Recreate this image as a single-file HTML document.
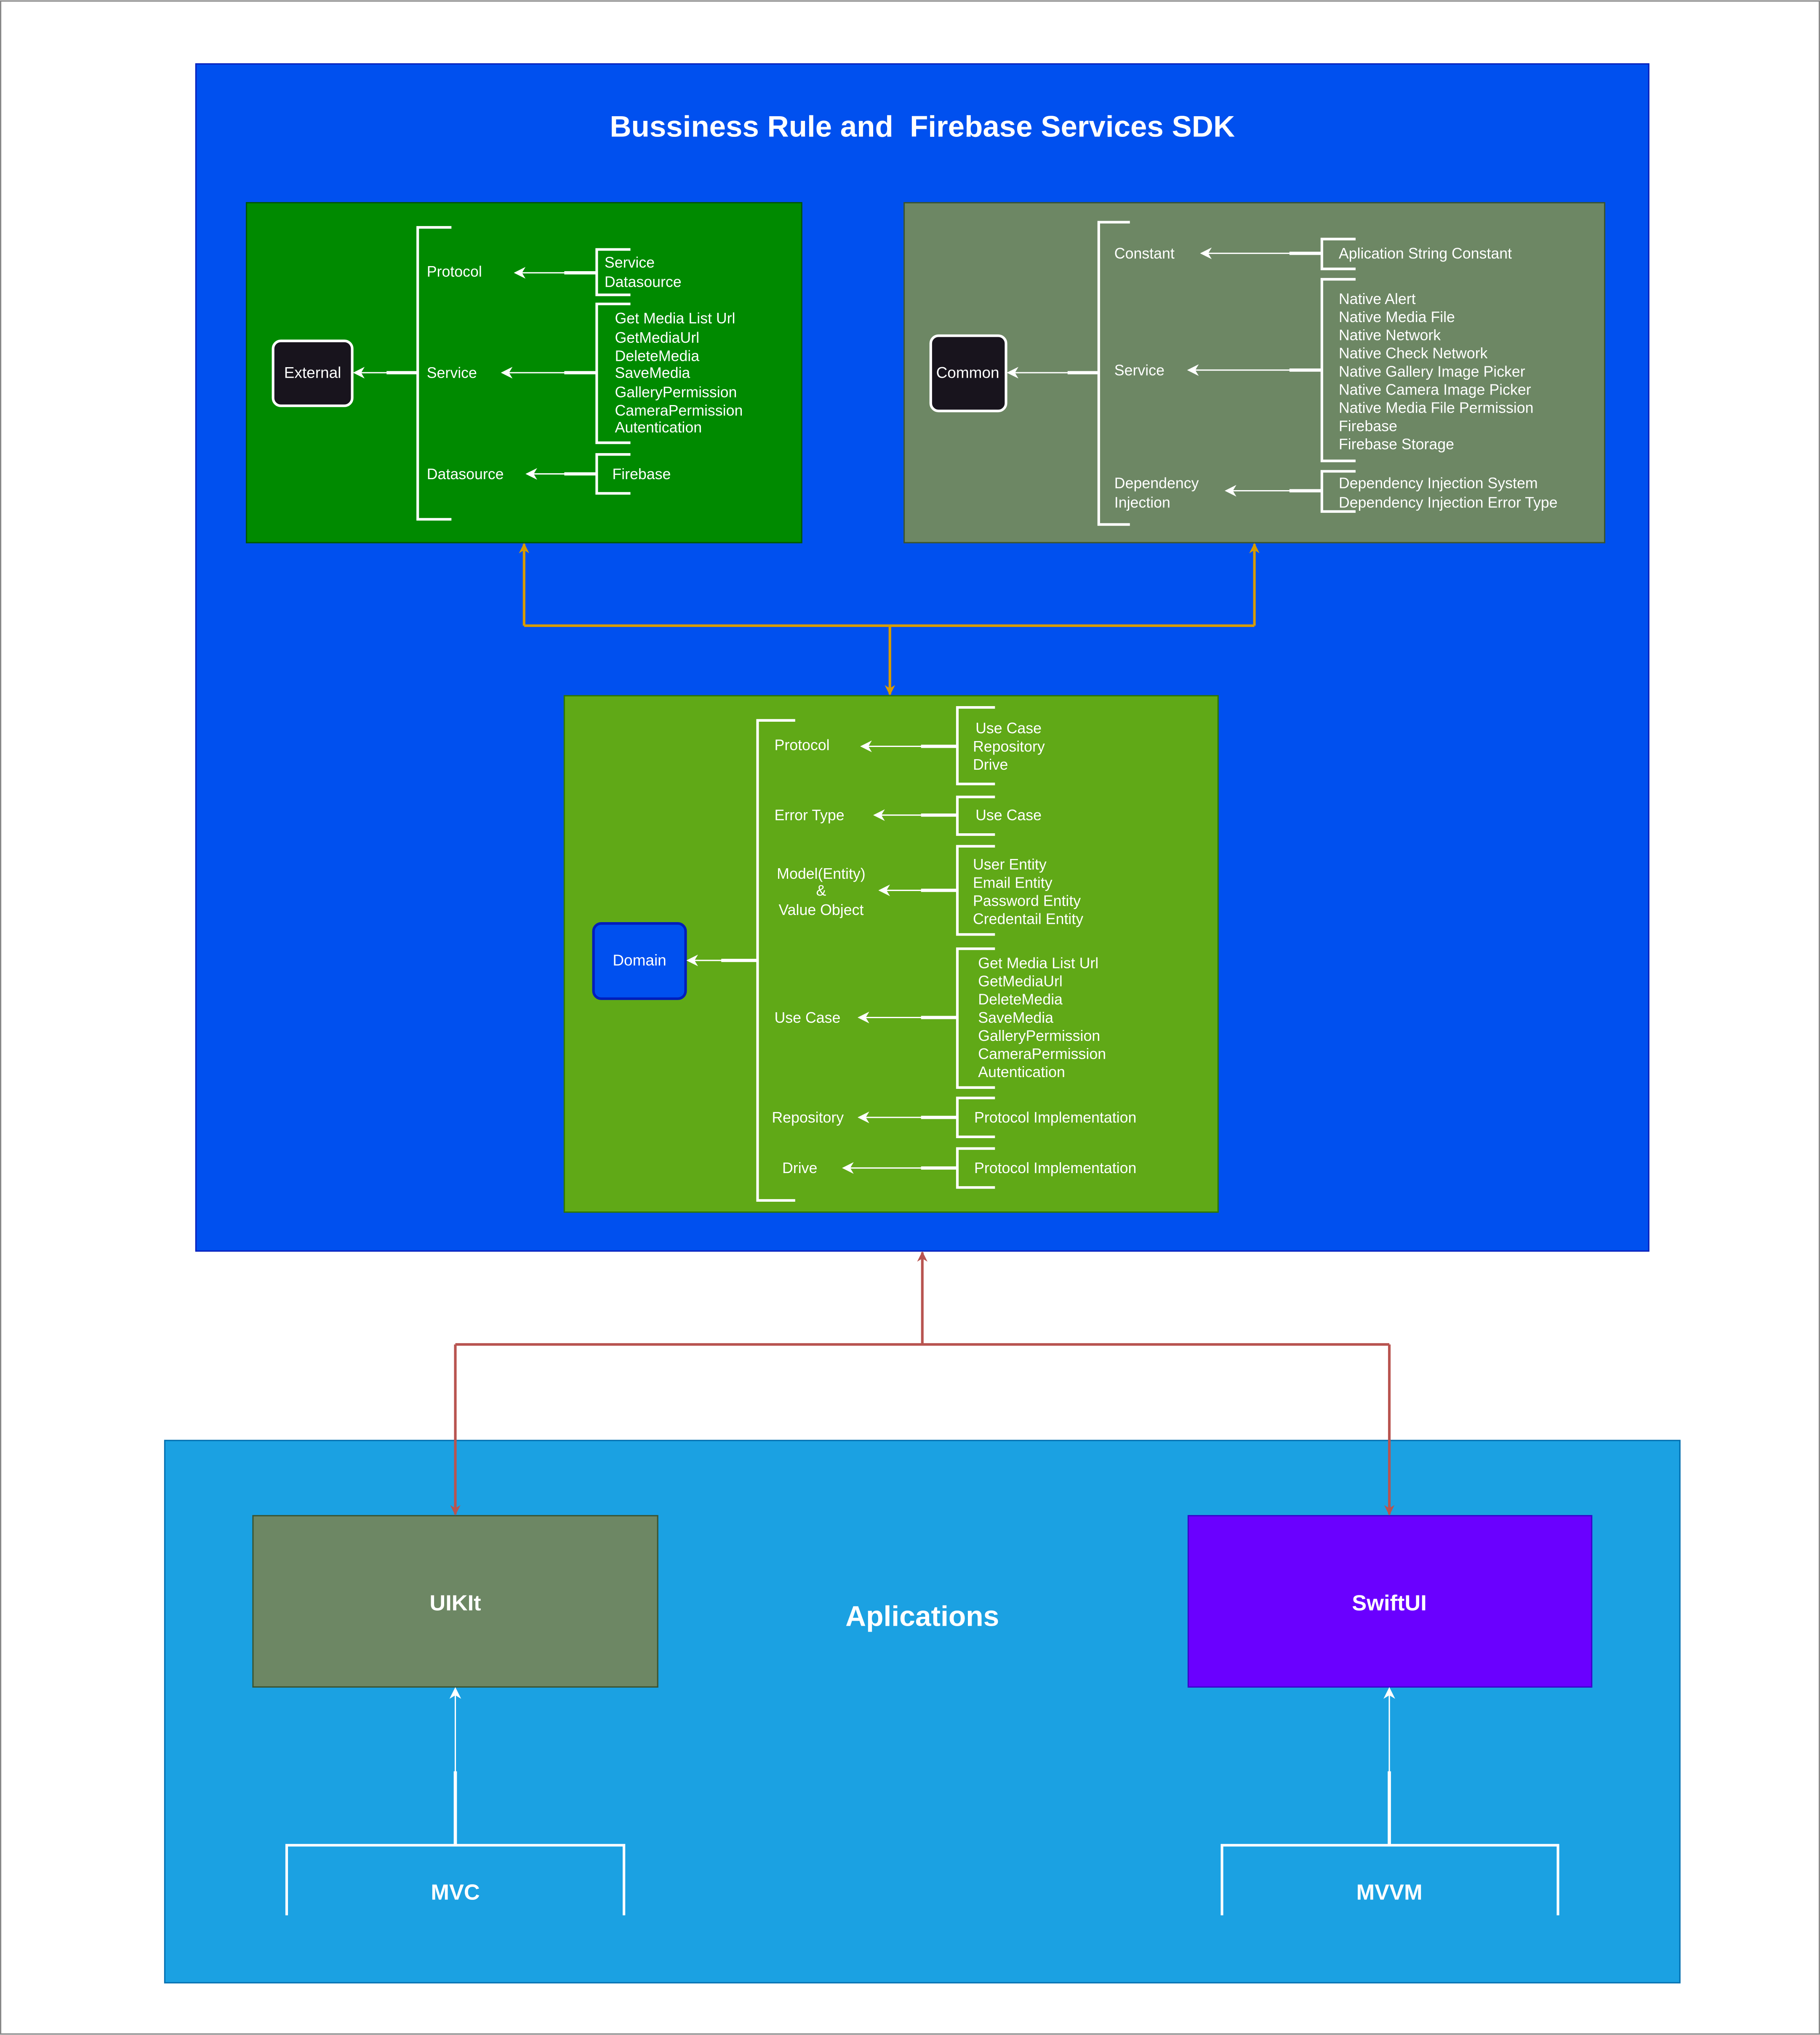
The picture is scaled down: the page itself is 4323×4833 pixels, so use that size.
<!DOCTYPE html>
<html><head><meta charset="utf-8">
<style>
html,body{margin:0;padding:0;background:#fff;}
svg{display:block;}
text{font-family:"Liberation Sans",Arial,sans-serif;fill:#fff;}
</style></head>
<body>
<svg width="4323" height="4833" viewBox="0 0 1403 1568" xmlns="http://www.w3.org/2000/svg">
<defs>
<marker id="aw" viewBox="0 0 10 10" refX="9" refY="5" markerUnits="userSpaceOnUse" markerWidth="9" markerHeight="9" orient="auto-start-reverse">
<path d="M0,0 L10,5 L0,10 L3,5 Z" fill="#fff"/></marker>
<marker id="ao" viewBox="0 0 10 10" refX="9" refY="5" markerUnits="userSpaceOnUse" markerWidth="8" markerHeight="8" orient="auto-start-reverse">
<path d="M0,0 L10,5 L0,10 L3,5 Z" fill="#D79B00"/></marker>
<marker id="ar" viewBox="0 0 10 10" refX="9" refY="5" markerUnits="userSpaceOnUse" markerWidth="8" markerHeight="8" orient="auto-start-reverse">
<path d="M0,0 L10,5 L0,10 L3,5 Z" fill="#B85450"/></marker>
</defs>
<rect x="0.5" y="0.5" width="1402" height="1567" fill="#fff" stroke="#888" stroke-width="1"/>

<rect x="151" y="49" width="1120" height="915" fill="#0050EF" stroke="#001DBC" stroke-width="1"/>
<text x="711" y="105" font-size="23" font-weight="bold" text-anchor="middle" xml:space="preserve">Bussiness Rule and  Firebase Services SDK</text>

<rect x="190" y="156" width="428" height="262" fill="#008A00" stroke="#005700" stroke-width="1"/>
<rect x="210.5" y="262.5" width="61" height="50" rx="6" fill="#18141D" stroke="#fff" stroke-width="2"/>
<text x="241" y="291" font-size="12" text-anchor="middle">External</text>
<g stroke="#fff" fill="none" stroke-width="2">
<path d="M348,175 H322 V400 H348"/>
<path d="M486,192 H460 V227 H486"/>
<path d="M486,234 H460 V341 H486"/>
<path d="M486,350 H460 V380 H486"/>
</g>
<g stroke="#fff" stroke-width="1">
<line x1="322" y1="287" x2="273" y2="287" marker-end="url(#aw)"/>
<line x1="460" y1="210" x2="397" y2="210" marker-end="url(#aw)"/>
<line x1="460" y1="287" x2="387" y2="287" marker-end="url(#aw)"/>
<line x1="460" y1="365" x2="406" y2="365" marker-end="url(#aw)"/>
</g>
<g stroke="#fff" stroke-width="2.5">
<line x1="298" y1="287" x2="322" y2="287"/>
<line x1="435" y1="210" x2="460" y2="210"/>
<line x1="435" y1="287" x2="460" y2="287"/>
<line x1="435" y1="365" x2="460" y2="365"/>
</g>
<g font-size="11.6">
<text x="329" y="213">Protocol</text>
<text x="329" y="291">Service</text>
<text x="329" y="369">Datasource</text>
<text x="466" y="206">Service</text>
<text x="466" y="221">Datasource</text>
<text x="474" y="249">Get Media List Url</text>
<text x="474" y="264">GetMediaUrl</text>
<text x="474" y="278">DeleteMedia</text>
<text x="474" y="291">SaveMedia</text>
<text x="474" y="306">GalleryPermission</text>
<text x="474" y="320">CameraPermission</text>
<text x="474" y="333">Autentication</text>
<text x="472" y="369">Firebase</text>
</g>

<rect x="697" y="156" width="540" height="262" fill="#6D8764" stroke="#3A5431" stroke-width="1"/>
<rect x="717.5" y="258.5" width="58" height="58" rx="6" fill="#18141D" stroke="#fff" stroke-width="2"/>
<text x="746" y="291" font-size="12" text-anchor="middle">Common</text>
<g stroke="#fff" fill="none" stroke-width="2">
<path d="M871,171 H847 V404 H871"/>
<path d="M1045,184 H1019 V207 H1045"/>
<path d="M1045,215 H1019 V355 H1045"/>
<path d="M1045,363 H1019 V394 H1045"/>
</g>
<g stroke="#fff" stroke-width="1">
<line x1="847" y1="287" x2="777" y2="287" marker-end="url(#aw)"/>
<line x1="1019" y1="195" x2="926" y2="195" marker-end="url(#aw)"/>
<line x1="1019" y1="285" x2="916" y2="285" marker-end="url(#aw)"/>
<line x1="1019" y1="378" x2="945" y2="378" marker-end="url(#aw)"/>
</g>
<g stroke="#fff" stroke-width="2.5">
<line x1="823" y1="287" x2="847" y2="287"/>
<line x1="994" y1="195" x2="1019" y2="195"/>
<line x1="994" y1="285" x2="1019" y2="285"/>
<line x1="994" y1="378" x2="1019" y2="378"/>
</g>
<g font-size="11.6">
<text x="859" y="199">Constant</text>
<text x="859" y="289">Service</text>
<text x="859" y="376">Dependency</text>
<text x="859" y="391">Injection</text>
<text x="1032" y="199">Aplication String Constant</text>
<text x="1032" y="234">Native Alert</text>
<text x="1032" y="248">Native Media File</text>
<text x="1032" y="262">Native Network</text>
<text x="1032" y="276">Native Check Network</text>
<text x="1032" y="290">Native Gallery Image Picker</text>
<text x="1032" y="304">Native Camera Image Picker</text>
<text x="1032" y="318">Native Media File Permission</text>
<text x="1032" y="332">Firebase</text>
<text x="1032" y="346">Firebase Storage</text>
<text x="1032" y="376">Dependency Injection System</text>
<text x="1032" y="391">Dependency Injection Error Type</text>
</g>

<g stroke="#D79B00" stroke-width="2" fill="none">
<path d="M404,482 V419" marker-end="url(#ao)"/>
<path d="M404,482 H967"/>
<path d="M967,482 V419" marker-end="url(#ao)"/>
<path d="M686,482 V535" marker-end="url(#ao)"/>
</g>

<rect x="435" y="536" width="504" height="398" fill="#60A917" stroke="#2D7600" stroke-width="1"/>
<rect x="457.5" y="711.5" width="71" height="58" rx="6" fill="#0050EF" stroke="#001DBC" stroke-width="2"/>
<text x="493" y="744" font-size="12" text-anchor="middle">Domain</text>
<g stroke="#fff" fill="none" stroke-width="2">
<path d="M613,555 H584 V925 H613"/>
<path d="M767,545 H738 V604 H767"/>
<path d="M767,614 H738 V643 H767"/>
<path d="M767,652 H738 V720 H767"/>
<path d="M767,731 H738 V838 H767"/>
<path d="M767,846 H738 V876 H767"/>
<path d="M767,885 H738 V915 H767"/>
</g>
<g stroke="#fff" stroke-width="1">
<line x1="584" y1="740" x2="530" y2="740" marker-end="url(#aw)"/>
<line x1="738" y1="575" x2="664" y2="575" marker-end="url(#aw)"/>
<line x1="738" y1="628" x2="674" y2="628" marker-end="url(#aw)"/>
<line x1="738" y1="686" x2="678" y2="686" marker-end="url(#aw)"/>
<line x1="738" y1="784" x2="662" y2="784" marker-end="url(#aw)"/>
<line x1="738" y1="861" x2="662" y2="861" marker-end="url(#aw)"/>
<line x1="738" y1="900" x2="650" y2="900" marker-end="url(#aw)"/>
</g>
<g stroke="#fff" stroke-width="2.5">
<line x1="556" y1="740" x2="584" y2="740"/>
<line x1="710" y1="575" x2="738" y2="575"/>
<line x1="710" y1="628" x2="738" y2="628"/>
<line x1="710" y1="686" x2="738" y2="686"/>
<line x1="710" y1="784" x2="738" y2="784"/>
<line x1="710" y1="861" x2="738" y2="861"/>
<line x1="710" y1="900" x2="738" y2="900"/>
</g>
<g font-size="11.6">
<text x="597" y="578">Protocol</text>
<text x="597" y="632">Error Type</text>
<text x="633" y="677" text-anchor="middle">Model(Entity)</text>
<text x="633" y="690" text-anchor="middle">&amp;</text>
<text x="633" y="705" text-anchor="middle">Value Object</text>
<text x="597" y="788">Use Case</text>
<text x="595" y="865">Repository</text>
<text x="603" y="904">Drive</text>
<text x="752" y="565">Use Case</text>
<text x="750" y="579">Repository</text>
<text x="750" y="593">Drive</text>
<text x="752" y="632">Use Case</text>
<text x="750" y="670">User Entity</text>
<text x="750" y="684">Email Entity</text>
<text x="750" y="698">Password Entity</text>
<text x="750" y="712">Credentail Entity</text>
<text x="754" y="746">Get Media List Url</text>
<text x="754" y="760">GetMediaUrl</text>
<text x="754" y="774">DeleteMedia</text>
<text x="754" y="788">SaveMedia</text>
<text x="754" y="802">GalleryPermission</text>
<text x="754" y="816">CameraPermission</text>
<text x="754" y="830">Autentication</text>
<text x="751" y="865">Protocol Implementation</text>
<text x="751" y="904">Protocol Implementation</text>
</g>

<rect x="127" y="1110" width="1168" height="418" fill="#1BA1E2" stroke="#006EAF" stroke-width="1"/>
<rect x="195" y="1168" width="312" height="132" fill="#6D8764" stroke="#3A5431" stroke-width="1"/>
<rect x="916" y="1168" width="311" height="132" fill="#6A00FF" stroke="#3700CC" stroke-width="1"/>
<text x="351" y="1241" font-size="17" font-weight="bold" text-anchor="middle">UIKIt</text>
<text x="1071" y="1241" font-size="17" font-weight="bold" text-anchor="middle">SwiftUI</text>
<text x="711" y="1253" font-size="22" font-weight="bold" text-anchor="middle">Aplications</text>

<g stroke="#B85450" stroke-width="2" fill="none">
<path d="M711,1036 V965" marker-end="url(#ar)"/>
<path d="M351,1036 H1071"/>
<path d="M351,1036 V1167" marker-end="url(#ar)"/>
<path d="M1071,1036 V1167" marker-end="url(#ar)"/>
</g>

<g stroke="#fff" fill="none" stroke-width="2">
<path d="M221,1476 V1422 H481 V1476"/>
<path d="M942,1476 V1422 H1201 V1476"/>
</g>
<g stroke="#fff" stroke-width="1">
<line x1="351" y1="1422" x2="351" y2="1301" marker-end="url(#aw)"/>
<line x1="1071" y1="1422" x2="1071" y2="1301" marker-end="url(#aw)"/>
</g>
<g stroke="#fff" stroke-width="2.5">
<line x1="351" y1="1365" x2="351" y2="1422"/>
<line x1="1071" y1="1365" x2="1071" y2="1422"/>
</g>
<text x="351" y="1464" font-size="17" font-weight="bold" text-anchor="middle">MVC</text>
<text x="1071" y="1464" font-size="17" font-weight="bold" text-anchor="middle">MVVM</text>
</svg>
</body></html>
